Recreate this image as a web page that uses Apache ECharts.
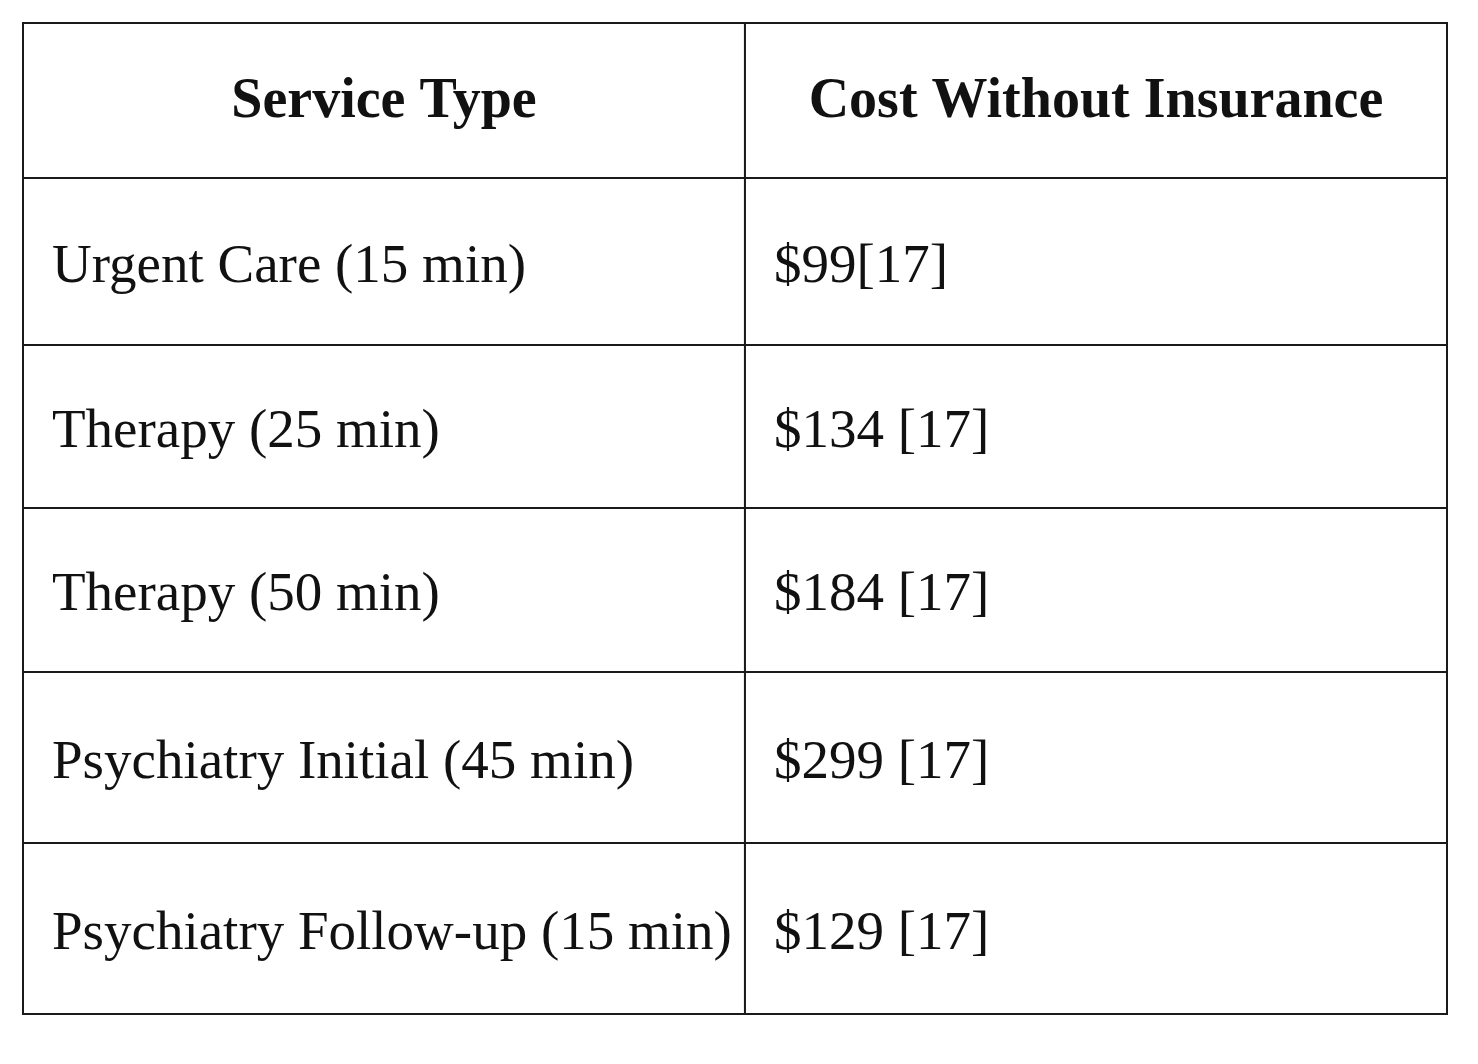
<!DOCTYPE html>
<html><head><meta charset="utf-8">
<script src="https://cdn.jsdelivr.net/npm/echarts@6/dist/echarts.min.js"></script>
<style>html,body{margin:0;padding:0;background:#fff}#c{width:1478px;height:1064px}</style>
</head><body><div id="c"></div>
<script>
const headers = ["Service Type", "Cost Without Insurance"];
const services = ["Urgent Care (15 min)", "Therapy (25 min)", "Therapy (50 min)", "Psychiatry Initial (45 min)", "Psychiatry Follow-up (15 min)"];
const costs = ["$99[17]", "$134 [17]", "$184 [17]", "$299 [17]", "$129 [17]"];

const colEdges = [0, 0.507, 1];
const rowH = [155, 167, 163, 164, 171, 171];
const rowEdges = [0]; rowH.forEach(h => rowEdges.push(rowEdges[rowEdges.length-1] + h));
const total = rowEdges[rowEdges.length-1];

const cells = [];
headers.forEach((h, c) => cells.push([c, 0, h, 1]));
services.forEach((s, r) => { cells.push([0, r+1, s, 0]); cells.push([1, r+1, costs[r], 0]); });

const chart = echarts.init(document.getElementById('c'));
chart.setOption({
  animation: false,
  grid: {left: 23, top: 23, width: 1424, height: 991},
  xAxis: {type: 'value', min: 0, max: 1, show: false},
  yAxis: {type: 'value', min: 0, max: total, inverse: true, show: false},
  series: [{
    type: 'custom',
    data: cells,
    renderItem: function (params, api) {
      const c = api.value(0), r = api.value(1);
      const item = cells[params.dataIndex];
      const p0 = api.coord([colEdges[c], rowEdges[r]]);
      const p1 = api.coord([colEdges[c+1], rowEdges[r+1]]);
      const header = item[3] === 1;
      return {
        type: 'group',
        children: [
          {type: 'rect', shape: {x: p0[0], y: p0[1], width: p1[0]-p0[0], height: p1[1]-p0[1]},
           style: {fill: '#fff', stroke: '#1a1a1a', lineWidth: 2}},
          {type: 'text', style: {
            text: item[2],
            x: header ? (p0[0]+p1[0])/2 : p0[0] + 29,
            y: (p0[1]+p1[1])/2 + (header ? 2 : 6),
            align: header ? 'center' : 'left',
            verticalAlign: 'middle',
            fontFamily: 'Liberation Serif, DejaVu Serif, serif',
            fontSize: header ? 56 : 55,
            fontWeight: header ? 'bold' : 'normal',
            fill: '#111'
          }}
        ]
      };
    }
  }]
});
</script></body></html>
